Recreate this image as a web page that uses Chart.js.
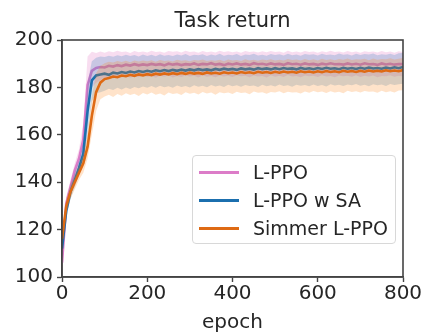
<!DOCTYPE html>
<html>
<head>
<meta charset="utf-8">
<script src="https://cdn.jsdelivr.net/npm/chart.js@4"></script>
<style>
    body { margin: 0; background: #fff; }
    #wrap { position: relative; width: 424px; height: 336px; }
    #titulo {
        position: absolute; left: 62px; top: 8px; width: 341px; line-height: 25px; text-align: center;
        font-family: "DejaVu Sans", sans-serif; font-size: 21px; color: #262626;
    }
    #leyenda {
        position: absolute; left: 192px; top: 155px; width: 202px; height: 87px;
        border: 1px solid #d8d8d8; border-radius: 4px; background: rgba(255,255,255,0.85);
        font-family: "DejaVu Sans", sans-serif; font-size: 19px; color: #262626;
    }
    .item { position: absolute; left: 0; height: 28px; line-height: 28px; white-space: nowrap; }
    .muestra { position: absolute; left: 6px; top: 13px; width: 40px; height: 2.5px; }
    .texto { position: absolute; left: 60px; top: 0; }
</style>
</head>
<body>
<div id="wrap">
    <canvas id="grafRetorno" width="424" height="336"></canvas>
    <div id="titulo">Task return</div>
    <div id="leyenda"></div>
</div>
<script>
// ===== DATOS =====
const epochs = [0,10,20,30,40,50,60,70,80,90,100,110,120,130,140,150,160,170,180,190,200,210,220,230,240,250,260,270,280,290,300,310,320,330,340,350,360,370,380,390,400,410,420,430,440,450,460,470,480,490,500,510,520,530,540,550,560,570,580,590,600,610,620,630,640,650,660,670,680,690,700,710,720,730,740,750,760,770,780,790,800]

const seriesNames = ["L-PPO", "L-PPO w SA", "Simmer L-PPO"]

// L-PPO
const lppoMean = [106,131,138,145,150,158,181,187,188.2,188.6,
    188.4,189.1,188.8,189.4,189.0,189.6,189.2,189.8,189.3,189.7,
    189.4,189.9,189.5,189.8,189.3,190.0,189.6,189.9,189.4,189.8,
    189.6,190.1,189.5,189.9,189.7,190.2,189.6,189.9,189.4,190.0,
    189.7,190.1,189.6,189.9,189.5,190.2,189.8,190.0,189.6,190.1,
    189.7,189.9,189.5,190.2,189.8,190.0,189.6,190.1,189.7,189.9,
    189.5,190.0,189.7,190.2,189.8,189.9,189.6,190.1,189.7,190.0,
    189.6,190.2,189.8,189.9,189.5,190.1,189.7,190.0,189.6,189.9,189.8]
const lppoHi = [110,134,141,148,154,165,193,195,194.5,195.2,
    194.6,195.3,194.8,195.5,194.9,195.2,194.5,195.4,194.8,195.1,
    194.7,195.5,194.9,195.2,194.6,195.4,195.0,195.3,194.7,195.5,
    194.9,195.2,194.6,195.4,194.8,195.1,194.7,195.5,194.9,195.3,
    194.8,195.2,194.6,195.4,194.9,195.1,194.7,195.3,194.8,195.4,
    194.9,195.2,194.6,195.5,194.8,195.1,194.7,195.4,194.9,195.2,
    194.6,195.3,194.8,195.5,194.9,195.1,194.7,195.4,194.8,195.2,
    194.6,195.3,194.9,195.1,194.7,195.4,194.8,195.2,194.6,195.3,194.9]
const lppoLo = [100,128,135,142,146,152,170,180,182,183,
    184.0,184.6,183.8,184.5,184.2,184.9,184.1,184.7,184.3,185.0,
    184.4,184.8,184.1,184.9,184.5,185.1,184.2,184.8,184.4,185.0,
    184.6,184.9,184.2,185.1,184.5,184.8,184.3,185.0,184.6,184.9,
    184.4,185.1,184.7,184.9,184.3,185.0,184.6,184.8,184.2,185.1,
    184.5,184.9,184.4,185.2,184.6,184.8,184.3,185.0,184.7,184.9,
    184.4,185.1,184.6,184.8,184.3,185.0,184.7,184.9,184.5,185.1,
    184.4,184.9,184.6,185.0,184.3,184.8,184.7,185.1,184.5,184.9,184.6]

// L-PPO w SA
const saMean = [112,128,136,141,146,152,170,183,185,185.4,
    185.8,185.3,186.2,185.9,186.5,186.1,186.7,186.3,186.9,186.5,
    187.0,186.6,187.2,186.8,187.3,186.9,187.4,187.0,187.5,187.1,
    187.6,187.2,187.7,187.3,187.6,187.2,187.8,187.4,187.9,187.5,
    187.8,187.4,188.0,187.6,187.9,187.5,188.1,187.7,188.0,187.6,
    188.1,187.7,188.2,187.8,188.0,187.6,188.2,187.8,188.1,187.7,
    188.2,187.8,188.3,187.9,188.1,187.7,188.3,187.9,188.2,187.8,
    188.3,187.9,188.4,188.0,188.2,187.9,188.4,188.0,188.5,188.1,188.6]
const saHi = [116,131,139,144,149,157,182,191,192.5,193,
    192.8,193.4,192.9,193.6,193.1,193.8,193.2,193.7,193.0,193.9,
    193.3,193.8,193.1,194.0,193.4,193.7,193.2,193.9,193.5,194.1,
    193.3,193.8,193.6,194.0,193.2,193.9,193.5,194.2,193.4,193.8,
    193.6,194.1,193.3,193.9,193.7,194.2,193.5,193.8,193.4,194.1,
    193.7,194.0,193.5,194.2,193.6,193.9,193.4,194.1,193.8,194.0,
    193.5,194.2,193.7,193.9,193.6,194.3,193.8,194.0,193.5,194.2,
    193.7,194.1,193.9,194.3,193.6,194.0,193.8,194.2,193.7,194.4,194.5]
const saLo = [108,125,133,138,143,148,160,174,177.5,178,
    178.6,179.4,178.9,179.8,179.1,180.0,179.3,180.2,179.6,180.4,
    179.8,180.6,179.9,180.7,180.1,180.5,179.8,180.8,180.2,180.6,
    180.0,180.9,180.3,180.7,180.1,181.0,180.4,180.8,180.2,181.1,
    180.5,180.9,180.3,181.0,180.6,180.8,180.2,181.1,180.5,180.9,
    180.4,181.2,180.6,180.9,180.3,181.1,180.7,181.0,180.5,181.2,
    180.6,181.0,180.4,181.3,180.8,181.1,180.6,181.2,180.9,181.4,
    180.7,181.1,180.5,181.3,180.9,181.2,180.6,181.4,181.0,181.3,181.5]

// Simmer L-PPO
const simMean = [116,130,136,140,144,148,155,168,178,182,
    183.5,184.0,184.6,184.3,185.0,184.7,185.3,184.9,185.5,185.1,
    185.6,185.2,185.8,185.4,185.9,185.5,186.0,185.6,186.1,185.7,
    186.2,185.8,186.1,185.7,186.3,185.9,186.2,185.8,186.4,186.0,
    186.3,185.9,186.5,186.1,186.4,186.0,186.6,186.2,186.5,186.1,
    186.6,186.2,186.7,186.3,186.6,186.2,186.8,186.4,186.7,186.3,
    186.8,186.4,186.9,186.5,186.8,186.4,187.0,186.6,186.9,186.5,
    187.0,186.6,187.1,186.7,187.0,186.7,187.2,186.8,187.1,186.8,187.3]
const simHi = [119,133,139,143,147,152,161,176,186,189,
    190.2,190.8,190.5,191.1,190.7,191.2,190.6,191.3,190.9,191.4,
    191.0,191.5,190.8,191.6,191.1,191.4,190.9,191.7,191.2,191.5,
    191.0,191.6,191.3,191.8,191.1,191.5,191.2,191.7,191.0,191.8,
    191.3,191.6,191.1,191.9,191.4,191.7,191.2,191.8,191.5,191.9,
    191.3,191.7,191.4,192.0,191.6,191.8,191.3,192.0,191.5,191.9,
    191.4,192.1,191.6,191.9,191.5,192.0,191.7,192.2,191.6,191.9,
    191.8,192.1,191.5,192.2,191.7,192.0,191.9,192.3,191.8,192.1,192.4]
const simLo = [113,127,133,137,141,144,150,160,170,175,
    176.2,176.9,176.0,177.2,176.5,177.5,176.8,177.3,176.4,177.6,
    177.0,177.8,176.9,177.4,176.6,177.9,177.2,177.5,176.8,178.0,
    177.3,177.7,177.0,178.1,177.4,177.8,176.9,178.0,177.5,177.9,
    177.2,178.2,177.6,177.8,177.1,178.3,177.7,178.0,177.3,178.1,
    177.8,178.4,177.5,178.2,177.9,178.0,177.4,178.3,177.7,178.5,
    178.0,178.3,177.6,178.4,177.9,178.2,177.5,178.6,178.1,178.4,
    177.8,178.5,178.2,178.3,177.7,178.6,178.0,178.4,177.9,178.7,178.8]

const yTicks = [100, 120, 140, 160, 180, 200]
const xTicks = [0, 200, 400, 600, 800]

// ===== ESTILO =====
const colores = ["#dc7cc8", "#1b6fae", "#de6a14"]
const bandas = ["rgba(227,119,194,0.25)", "rgba(31,119,180,0.22)", "rgba(255,127,14,0.22)"]
const fuente = "'DejaVu Sans', sans-serif"
const tinta = "#262626"
const eje = "#444"

function puntos(arr) {
    return epochs.map((e, i) => ({ x: e, y: arr[i] }))
}

function linea(arr, color) {
    return { data: puntos(arr), borderColor: color, borderWidth: 2.6, pointRadius: 0, tension: 0, fill: false }
}

function banda(arr, color, relleno) {
    return { data: puntos(arr), borderWidth: 0, borderColor: "transparent", backgroundColor: color, pointRadius: 0, tension: 0, fill: relleno }
}

// primero en la lista = dibujado arriba
const datasets = [
    linea(simMean, colores[2]),
    banda(simHi, bandas[2], "+1"),
    banda(simLo, bandas[2], false),
    linea(saMean, colores[1]),
    banda(saHi, bandas[1], "+1"),
    banda(saLo, bandas[1], false),
    linea(lppoMean, colores[0]),
    banda(lppoHi, bandas[0], "+1"),
    banda(lppoLo, bandas[0], false)
]

// marco completo (spines arriba y derecha)
const marco = {
    id: "marco",
    afterDatasetsDraw(chart) {
        const { ctx, chartArea: a } = chart
        ctx.save()
        ctx.strokeStyle = eje
        ctx.lineWidth = 1.6
        ctx.strokeRect(a.left, a.top, a.right - a.left, a.bottom - a.top)
        ctx.restore()
    }
}

new Chart(document.getElementById("grafRetorno"), {
    type: "line",
    data: { datasets: datasets },
    plugins: [marco],
    options: {
        responsive: false,
        animation: false,
        layout: { padding: { left: 0, right: 21, top: 40, bottom: 0 } },
        plugins: {
            legend: { display: false },
            tooltip: { enabled: false },
            title: { display: false }
        },
        scales: {
            x: {
                type: "linear", min: 0, max: 800,
                afterBuildTicks: s => { s.ticks = xTicks.map(v => ({ value: v })) },
                afterFit: s => { s.height = 59 },
                ticks: { color: tinta, padding: 0, maxRotation: 0, font: { family: fuente, size: 20 } },
                grid: { drawOnChartArea: false, tickLength: 5, color: eje, tickWidth: 1.4 },
                border: { color: eje, width: 1.6 },
                title: { display: true, text: "epoch", color: tinta, padding: { top: 2, bottom: 1 }, font: { family: fuente, size: 20 } }
            },
            y: {
                min: 100, max: 200,
                afterBuildTicks: s => { s.ticks = yTicks.map(v => ({ value: v })) },
                afterFit: s => { s.width = 62 },
                ticks: { color: tinta, padding: 4, font: { family: fuente, size: 20 } },
                grid: { drawOnChartArea: false, tickLength: 5, color: eje, tickWidth: 1.4 },
                border: { color: eje, width: 1.6 }
            }
        }
    }
})

// leyenda
const leyenda = document.getElementById("leyenda")
leyenda.innerHTML = seriesNames.map((n, i) => `
    <div class="item" style="top:${2 + i * 28}px">
        <div class="muestra" style="background:${colores[i]}"></div>
        <span class="texto">${n}</span>
    </div>
`).join("")
</script>
</body>
</html>
